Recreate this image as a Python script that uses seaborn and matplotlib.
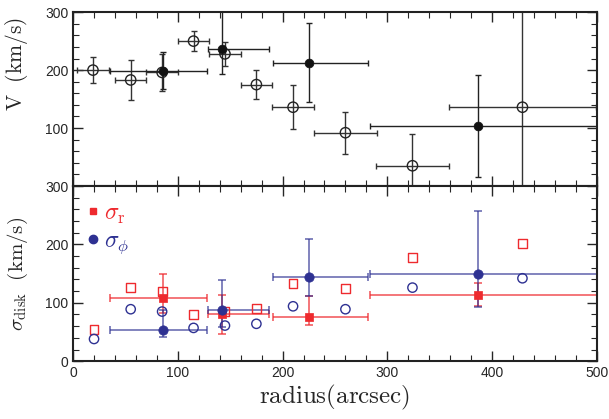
import numpy as np
import pandas as pd
import matplotlib
matplotlib.use("Agg")
import matplotlib.pyplot as plt
import seaborn as sns
from matplotlib.ticker import MultipleLocator
from matplotlib.lines import Line2D

# ---- data ----
# top panel: open circles (model/tilted ring points)
r_open = [19, 55, 85, 115, 145, 175, 210, 260, 324, 429]
v_open = [200, 183, 196, 250, 228, 175, 136, 92, 35, 136]
v_open_err = [22, 35, 32, 17, 21, 25, 38, 36, 55, 170]
r_open_err = [15, 15, 15, 15, 15, 15, 20, 30, 35, 70]

# top panel: filled circles (binned)
r_bin = [86, 142, 225, 387]
r_bin_lo = [51, 13, 34, 104]
r_bin_hi = [42, 45, 57, 113]
v_fill = [199, 237, 213, 103]
v_fill_lo = [32, 44, 68, 88]
v_fill_hi = [32, 75, 68, 88]

# bottom panel: open markers
r_model = [20, 55, 85, 115, 145, 175, 210, 260, 324, 429]
sr_model = [54, 126, 119, 80, 85, 90, 133, 125, 177, 201]
sp_model = [38, 89, 85, 57, 61, 64, 94, 89, 126, 142]

# bottom panel: binned dispersions
sr = [109, 80, 76, 114]
sr_lo = [27, 33, 14, 20]
sr_hi = [41, 33, 35, 20]
sp = [54, 88, 145, 150]
sp_lo = [12, 29, 34, 57]
sp_hi = [33, 51, 64, 107]

red = "#ee2a2e"
blue = "#2e3192"

sns.set_style("ticks")
plt.rcParams["font.family"] = ["Liberation Sans", "DejaVu Sans"]
plt.rcParams["mathtext.fontset"] = "cm"

fig = plt.figure(figsize=(6.09, 4.19), dpi=100)
ax1 = fig.add_axes([0.120, 0.556, 0.860, 0.415])
ax2 = fig.add_axes([0.120, 0.138, 0.860, 0.418], sharex=ax1)

# ---- top panel ----
ax1.errorbar(r_open, v_open, xerr=r_open_err, yerr=v_open_err, fmt="none",
             ecolor="#333333", elinewidth=1, capsize=2.5, capthick=1)
ax1.errorbar(r_bin, v_fill, xerr=[r_bin_lo, r_bin_hi], yerr=[v_fill_lo, v_fill_hi],
             fmt="none", ecolor="#222222", elinewidth=1, capsize=2.5, capthick=1)
sns.scatterplot(x=r_open, y=v_open, ax=ax1, marker="o", s=55,
                facecolor="none", edgecolor="#222222", linewidth=1, zorder=3)
sns.scatterplot(x=r_bin, y=v_fill, ax=ax1, marker="o", s=40,
                color="#111111", edgecolor="#111111", zorder=4)
ax1.set_ylim(0, 300)
ax1.set_yticks([100, 200, 300])
ax1.set_ylabel(r"$\mathrm{V\ \ (km/s)}$", fontsize=15.5)
ax1.yaxis.set_label_coords(-0.082, 0.70)

# ---- bottom panel ----
ax2.errorbar(r_bin, sr, xerr=[r_bin_lo, r_bin_hi], yerr=[sr_lo, sr_hi], fmt="none",
             ecolor=red, alpha=0.75, elinewidth=1.2, capsize=3, capthick=1.2)
ax2.errorbar(r_bin, sp, xerr=[r_bin_lo, r_bin_hi], yerr=[sp_lo, sp_hi], fmt="none",
             ecolor=blue, alpha=0.7, elinewidth=1.2, capsize=3, capthick=1.2)
sns.scatterplot(x=r_model, y=sr_model, ax=ax2, marker="s", s=40,
                facecolor="none", edgecolor=red, linewidth=1, zorder=3)
sns.scatterplot(x=r_model, y=sp_model, ax=ax2, marker="o", s=45,
                facecolor="none", edgecolor=blue, linewidth=1, zorder=3)
sns.scatterplot(x=r_bin, y=sr, ax=ax2, marker="s", s=40, color=red,
                edgecolor=red, zorder=4)
sns.scatterplot(x=r_bin, y=sp, ax=ax2, marker="o", s=45, color=blue,
                edgecolor=blue, zorder=4)
ax2.set_ylim(0, 300)
ax2.set_yticks([0, 100, 200, 300])
ax2.set_xlim(0, 500)
ax2.set_xlabel(r"$\mathrm{radius(arcsec)}$", fontsize=18, labelpad=2)
ax2.set_ylabel(r"$\sigma_{\rm disk}\ \ \mathrm{(km/s)}$", fontsize=15)
ax2.yaxis.set_label_coords(-0.082, 0.5)

handles = [Line2D([], [], marker="s", color=red, ls="none", markersize=5),
           Line2D([], [], marker="o", color=blue, ls="none", markersize=6)]
leg = ax2.legend(handles, [r"$\sigma_{\rm r}$", r"$\sigma_{\phi}$"], loc="upper left",
                 frameon=False, fontsize=17, handlelength=0.6, handletextpad=0.2,
                 labelspacing=0.2, borderaxespad=0.3, bbox_to_anchor=(-0.008, 1.0))
for t, c in zip(leg.get_texts(), [red, blue]):
    t.set_color(c)

for ax in (ax1, ax2):
    ax.xaxis.set_major_locator(MultipleLocator(100))
    ax.xaxis.set_minor_locator(MultipleLocator(20))
    ax.yaxis.set_minor_locator(MultipleLocator(20))
    ax.tick_params(which="both", direction="in", top=True, right=True, labelsize=10)
    ax.tick_params(which="major", length=7, width=1)
    ax.tick_params(which="minor", length=4, width=0.8)
    for s in ax.spines.values():
        s.set_linewidth(1.5)
        s.set_color("#222222")
ax1.tick_params(labelbottom=False)

fig.savefig("out.png", dpi=100)
